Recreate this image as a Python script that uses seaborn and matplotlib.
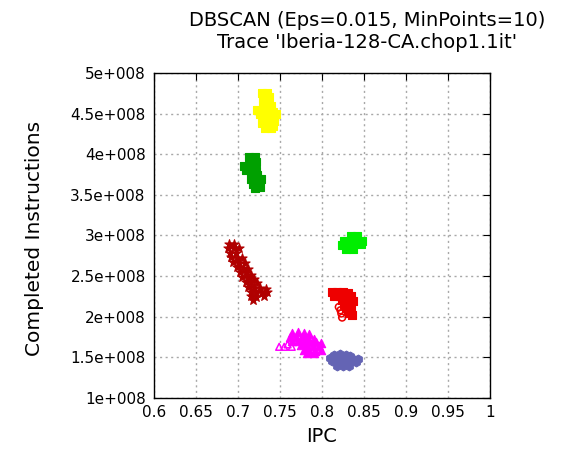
import matplotlib
matplotlib.use("Agg")
import matplotlib.pyplot as plt
from matplotlib.ticker import FixedLocator
import pandas as pd
import seaborn as sns

# --- cluster samples: IPC and completed instructions ---
yellow_ipc = [0.729, 0.735, 0.731, 0.737, 0.730, 0.736, 0.733, 0.739, 0.723, 0.729, 0.735, 0.742,
              0.726, 0.733, 0.740, 0.745, 0.730, 0.737, 0.743, 0.729, 0.735, 0.742, 0.732, 0.739]
yellow_ins = [4.76e8, 4.76e8, 4.71e8, 4.70e8, 4.66e8, 4.64e8, 4.60e8, 4.59e8, 4.54e8, 4.55e8, 4.53e8, 4.52e8,
              4.49e8, 4.48e8, 4.47e8, 4.49e8, 4.43e8, 4.42e8, 4.41e8, 4.38e8, 4.36e8, 4.35e8, 4.32e8, 4.32e8]

dkgreen_ipc = [0.713, 0.720, 0.714, 0.721, 0.707, 0.713, 0.719, 0.709, 0.716, 0.722, 0.717, 0.723,
               0.716, 0.722, 0.727, 0.718, 0.724, 0.720, 0.726]
dkgreen_ins = [3.97e8, 3.97e8, 3.92e8, 3.91e8, 3.86e8, 3.85e8, 3.86e8, 3.81e8, 3.80e8, 3.79e8, 3.75e8, 3.74e8,
               3.70e8, 3.69e8, 3.70e8, 3.64e8, 3.63e8, 3.59e8, 3.60e8]

dkred_ipc = [0.689, 0.695, 0.688, 0.695, 0.701, 0.691, 0.698, 0.692, 0.699, 0.705, 0.694, 0.701, 0.708,
             0.699, 0.706, 0.712, 0.702, 0.709, 0.716, 0.705, 0.712, 0.719, 0.709, 0.716, 0.723,
             0.712, 0.719, 0.726, 0.733, 0.715, 0.722, 0.729, 0.735, 0.716, 0.722, 0.731, 0.718]
dkred_ins = [2.90e8, 2.90e8, 2.85e8, 2.84e8, 2.84e8, 2.79e8, 2.78e8, 2.73e8, 2.72e8, 2.72e8, 2.67e8, 2.66e8, 2.66e8,
             2.61e8, 2.60e8, 2.59e8, 2.55e8, 2.54e8, 2.52e8, 2.49e8, 2.48e8, 2.47e8, 2.43e8, 2.42e8, 2.41e8,
             2.37e8, 2.36e8, 2.35e8, 2.34e8, 2.31e8, 2.30e8, 2.29e8, 2.30e8, 2.25e8, 2.24e8, 2.25e8, 2.21e8]

ltgreen_ipc = [0.834, 0.842, 0.826, 0.834, 0.842, 0.848, 0.824, 0.831, 0.839, 0.847, 0.829, 0.837]
ltgreen_ins = [2.99e8, 2.99e8, 2.93e8, 2.93e8, 2.94e8, 2.93e8, 2.88e8, 2.88e8, 2.89e8, 2.89e8, 2.83e8, 2.83e8]

red_ipc = [0.812, 0.818, 0.825, 0.831, 0.814, 0.821, 0.828, 0.835, 0.824, 0.831, 0.837,
           0.826, 0.833, 0.829, 0.835, 0.832, 0.836]
red_ins = [2.30e8, 2.30e8, 2.31e8, 2.29e8, 2.26e8, 2.26e8, 2.25e8, 2.25e8, 2.21e8, 2.21e8, 2.20e8,
           2.16e8, 2.16e8, 2.11e8, 2.11e8, 2.05e8, 2.02e8]
red_open_ipc = [0.820, 0.822, 0.823, 0.824]
red_open_ins = [2.12e8, 2.08e8, 2.04e8, 1.99e8]

magenta_ipc = [0.764, 0.771, 0.778, 0.785, 0.762, 0.769, 0.776, 0.783, 0.790, 0.764, 0.771, 0.778, 0.785,
               0.793, 0.799, 0.775, 0.782, 0.789, 0.796, 0.778, 0.785, 0.792, 0.799, 0.782, 0.790]
magenta_ins = [1.80e8, 1.81e8, 1.80e8, 1.79e8, 1.75e8, 1.75e8, 1.75e8, 1.74e8, 1.73e8, 1.70e8, 1.70e8, 1.69e8, 1.69e8,
               1.69e8, 1.68e8, 1.65e8, 1.64e8, 1.64e8, 1.64e8, 1.59e8, 1.59e8, 1.58e8, 1.59e8, 1.56e8, 1.56e8]
magenta_open_ipc = [0.749, 0.755, 0.759, 0.764]
magenta_open_ins = [1.63e8, 1.63e8, 1.66e8, 1.63e8]

blue_ipc = [0.814, 0.821, 0.828, 0.833, 0.809, 0.816, 0.823, 0.830, 0.837, 0.843,
            0.812, 0.819, 0.826, 0.833, 0.840, 0.818, 0.825, 0.832]
blue_ins = [1.53e8, 1.54e8, 1.53e8, 1.52e8, 1.49e8, 1.49e8, 1.49e8, 1.49e8, 1.48e8, 1.48e8,
            1.45e8, 1.44e8, 1.44e8, 1.44e8, 1.44e8, 1.40e8, 1.40e8, 1.40e8]

x_ticks = [0.6, 0.65, 0.7, 0.75, 0.8, 0.85, 0.9, 0.95, 1.0]
x_tick_labels = ["0.6", "0.65", "0.7", "0.75", "0.8", "0.85", "0.9", "0.95", "1"]
y_ticks = [1e8, 1.5e8, 2e8, 2.5e8, 3e8, 3.5e8, 4e8, 4.5e8, 5e8]
y_tick_labels = ["1e+008", "1.5e+008", "2e+008", "2.5e+008", "3e+008",
                 "3.5e+008", "4e+008", "4.5e+008", "5e+008"]

title_lines = ["DBSCAN (Eps=0.015, MinPoints=10)", "Trace 'Iberia-128-CA.chop1.1it'"]

sns.set_theme(style="white")
plt.rcParams["font.family"] = ["DejaVu Sans"]

fig = plt.figure(figsize=(5.61, 4.51), dpi=100)
ax = fig.add_axes([154 / 561, 1 - 398 / 451, 336 / 561, 325 / 451])

filled = [
    (yellow_ipc, yellow_ins, "#ffff00", "s", 30),
    (dkgreen_ipc, dkgreen_ins, "#00a000", "s", 30),
    (dkred_ipc, dkred_ins, "#b00000", "*", 48),
    (ltgreen_ipc, ltgreen_ins, "#00ee00", "s", 30),
    (red_ipc, red_ins, "#ee0000", "s", 30),
    (magenta_ipc, magenta_ins, "#ff00ff", "^", 36),
    (blue_ipc, blue_ins, "#6464b4", "h", 40),
]
for xs, ys, col, mk, sz in filled:
    df = pd.DataFrame({"IPC": xs, "Instructions": ys})
    sns.scatterplot(data=df, x="IPC", y="Instructions", ax=ax, color=col,
                    marker=mk, s=sz, edgecolor=col, linewidth=0.8, zorder=3, legend=False)

for xs, ys, col, mk in [(red_open_ipc, red_open_ins, "#ee0000", "o"),
                        (magenta_open_ipc, magenta_open_ins, "#ff00ff", "^")]:
    df = pd.DataFrame({"IPC": xs, "Instructions": ys})
    sns.scatterplot(data=df, x="IPC", y="Instructions", ax=ax, marker=mk, s=24,
                    facecolor="none", edgecolor=col, linewidth=1.1, zorder=3, legend=False)

ax.set_xlim(0.6, 1.0)
ax.set_ylim(1e8, 5e8)
ax.xaxis.set_major_locator(FixedLocator(x_ticks))
ax.yaxis.set_major_locator(FixedLocator(y_ticks))
ax.set_xticklabels(x_tick_labels)
ax.set_yticklabels(y_tick_labels)

ax.grid(True, color="#a8a8a8", linestyle=(0, (1.5, 2.5)), linewidth=1.0, zorder=0)
ax.set_axisbelow(True)
for sp in ax.spines.values():
    sp.set_color("black")
    sp.set_linewidth(1.0)
ax.tick_params(direction="in", length=5, width=0.8, color="black",
               top=True, right=True, labelsize=11, labelcolor="black")
ax.tick_params(axis="y", pad=6)
ax.tick_params(axis="x", pad=5)

ax.set_xlabel("IPC", fontsize=14, labelpad=5, color="black")
ax.set_ylabel("Completed Instructions", fontsize=14.5, color="black")
ax.yaxis.set_label_coords(-0.328, 0.49)

fig.text(367 / 561, 1 - 20 / 451, title_lines[0], fontsize=14, color="black",
         ha="center", va="center")
fig.text(367 / 561, 1 - 42 / 451, title_lines[1], fontsize=14, color="black",
         ha="center", va="center")

fig.savefig("out.png", dpi=100)
